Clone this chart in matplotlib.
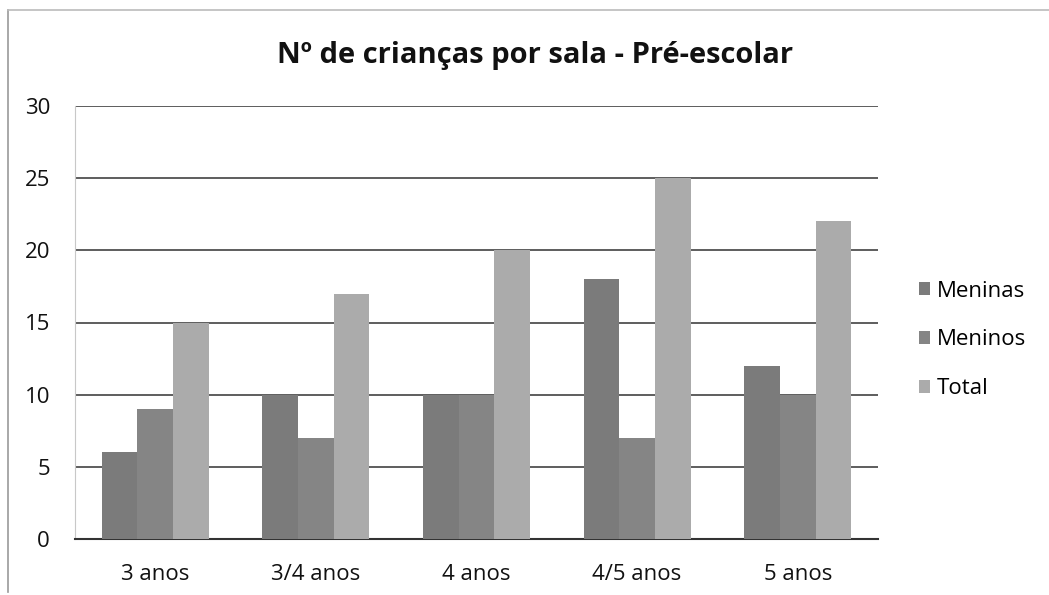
import matplotlib.pyplot as plt
import numpy as np

categorias = ['3 anos', '3/4 anos', '4 anos', '4/5 anos', '5 anos']
meninas = [6, 10, 10, 18, 12]
meninos = [9, 7, 10, 7, 10]
total = [15, 17, 20, 25, 22]
series = ['Meninas', 'Meninos', 'Total']
cores = ['#7b7b7b', '#858585', '#ababab']

plt.rcParams['font.family'] = ['Open Sans', 'DejaVu Sans']

fig = plt.figure(figsize=(10.49, 5.95), dpi=100)
ax = fig.add_axes([75/1049, 1-539/595, (878-75)/1049, (539-106)/595])

x = np.arange(len(categorias))
w = 0.222
for i, (vals, nome, cor) in enumerate(zip([meninas, meninos, total], series, cores)):
    ax.bar(x + (i-1)*w, vals, w, color=cor, label=nome, zorder=3)

ax.set_xlim(-0.5, len(categorias)-0.5)
ax.set_ylim(0, 30)
ax.set_yticks(range(0, 31, 5))
ax.set_xticks(x)
ax.set_xticklabels(categorias)
ax.grid(axis='y', color='#505050', linewidth=1.3, zorder=1)
ax.tick_params(axis='both', length=0, labelsize=16, colors='#111111')
ax.tick_params(axis='x', pad=18)
ax.tick_params(axis='y', pad=18)
for s in ['top', 'right']:
    ax.spines[s].set_visible(False)
ax.spines['left'].set_color('#c8c8c8')
ax.spines['bottom'].set_color('#333333')
ax.spines['bottom'].set_linewidth(1.5)

fig.text(535/1049, 1-55/595, 'Nº de crianças por sala - Pré-escolar',
         ha='center', va='center', fontsize=21, fontweight='bold', color='#111111')

ax.legend(loc='center left', bbox_to_anchor=(899/1049, 1-340/595),
          bbox_transform=fig.transFigure, frameon=False, fontsize=16,
          handlelength=0.5, handleheight=0.5, handletextpad=0.3, labelspacing=1.25)

# moldura do gráfico
fig.add_artist(plt.Line2D([8/1049, 8/1049], [1-10/595, 0.005], color='#999999', lw=1.2))
fig.add_artist(plt.Line2D([8/1049, 1], [1-10/595, 1-10/595], color='#bbbbbb', lw=1.2))

fig.savefig('out.png', dpi=100)
